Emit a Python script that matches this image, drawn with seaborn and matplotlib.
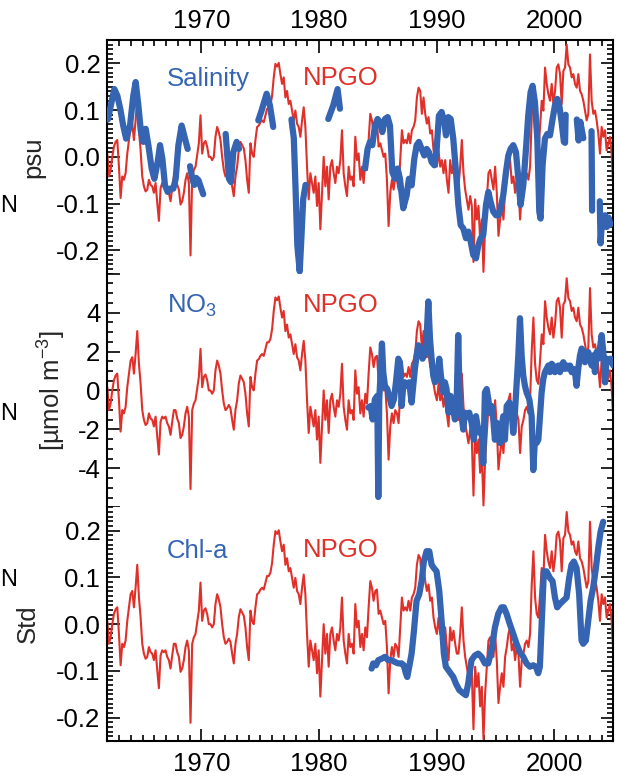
import numpy as np
import pandas as pd
import matplotlib
matplotlib.use("Agg")
import matplotlib.pyplot as plt
import seaborn as sns
from matplotlib.ticker import MultipleLocator, FixedLocator, FuncFormatter

sns.set_style("white")
plt.rcParams['font.family'] = ['Liberation Sans', 'DejaVu Sans']
plt.rcParams['mathtext.fontset'] = 'custom'
plt.rcParams['mathtext.rm'] = 'Liberation Sans'
plt.rcParams['mathtext.it'] = 'Liberation Sans:italic'
plt.rcParams['axes.unicode_minus'] = False

# ---------------- data ----------------
# NPGO index (regularly sampled from 1962.0 to 2005.0), in psu/Std units
npgo_start, npgo_end = 1962.0, 2005.0
npgo_values = [
    0.007, -0.042, -0.028, 0.000, 0.022, 0.032, 0.036, -0.021, -0.088, -0.042,
    -0.049, -0.035, 0.007, 0.036, 0.064, 0.071, 0.036, 0.078, 0.127, 0.057,
    0.015, -0.042, -0.063, -0.074, -0.070, -0.049, -0.060, -0.063, -0.077, -0.056,
    -0.098, -0.137, -0.067, -0.056, -0.060, -0.056, -0.070, -0.077, -0.095, -0.067,
    -0.042, -0.042, -0.060, -0.070, -0.102, -0.095, -0.077, -0.049, -0.035, -0.056,
    -0.211, -0.042, -0.028, -0.021, 0.004, 0.029, 0.089, 0.007, 0.029, 0.034,
    0.022, 0.000, 0.000, -0.007, 0.000, 0.043, 0.064, 0.053, 0.036, 0.000,
    -0.028, -0.042, -0.038, -0.031, -0.038, -0.063, -0.084, -0.042, -0.021, 0.015,
    0.032, 0.025, 0.018, -0.007, -0.049, -0.077, 0.029, 0.007, 0.000, 0.036,
    0.064, 0.067, 0.074, 0.078, 0.074, 0.089, 0.103, 0.103, 0.110, 0.131,
    0.170, 0.199, 0.193, 0.201, 0.177, 0.156, 0.170, 0.127, 0.141, 0.113,
    0.120, 0.099, 0.078, 0.099, 0.071, 0.064,
    0.043, 0.078, 0.106, 0.064, -0.021, -0.091, -0.035, -0.056, -0.077, -0.042,
    -0.105, -0.056, -0.155, -0.077, 0.000, -0.063, -0.021, -0.091, -0.021, -0.007,
    -0.035, -0.056, -0.021, -0.035, -0.007, 0.057, -0.035, -0.063, -0.084, -0.021,
    -0.049, -0.042, -0.063, 0.043, -0.007, 0.007, -0.049, -0.021, -0.056, -0.007,
    -0.028, 0.036, 0.092, 0.078, 0.050, 0.071, 0.074, 0.022, 0.029, 0.014,
    0.000, 0.007, -0.049, -0.148, -0.077, -0.049, -0.070, -0.042, -0.049, -0.070,
    -0.007, 0.057, 0.029, 0.036, 0.029, 0.050, 0.029, 0.057, 0.064, 0.078,
    0.127, 0.148, 0.141, 0.092, 0.127, 0.092, 0.071, 0.085, 0.050, 0.057,
    0.014, -0.007, -0.021, 0.014, -0.021, -0.007, -0.035, -0.007, -0.049, -0.077,
    -0.007, -0.035, -0.014, -0.042, -0.063, -0.063, -0.021, 0.036, -0.035, -0.070,
    -0.091, -0.113, -0.084, -0.105, -0.225, -0.091, -0.134, -0.105, -0.176, -0.134,
    -0.246, -0.148, -0.091, -0.035, -0.028, -0.049, -0.070, -0.021, -0.077, -0.169,
    -0.134, -0.105, -0.134, -0.070, -0.049, -0.021, -0.007, -0.056, -0.042, -0.077,
    -0.049, -0.063, -0.134, -0.077, -0.063, -0.042, -0.035, -0.049, -0.021, 0.085,
    0.156, 0.057, 0.022, 0.014, 0.064, 0.120, 0.099, 0.191, 0.156, 0.134,
    0.120, 0.156, 0.113, 0.141, 0.191, 0.198, 0.177, 0.113, 0.184, 0.191,
    0.240, 0.198, 0.191, 0.170, 0.177, 0.156, 0.148, 0.177, 0.141, 0.134,
    0.120, 0.099, 0.078, 0.092, 0.219, 0.120, 0.092, 0.099, 0.078, 0.050,
    0.007, 0.064, 0.043, 0.057, 0.014, 0.029, 0.043, 0.007, -0.063,
]
npgo_no3_scale = 24.0   # NPGO drawn in the nitrate panel in umol m-3 units

# Salinity (psu), NaN marks gaps in the record
sal_years = [
    1962.05, 1962.30, 1962.60, 1962.85, 1963.10, 1963.35, 1963.60, 1963.93, 1964.21, 1964.41,
    1964.64, 1964.86, 1965.06, 1965.26, 1965.49, 1965.77, 1966.00, 1966.28, 1966.48, 1966.68,
    1966.90, 1967.13, 1967.33, 1967.61, 1967.81, 1968.04, 1968.32, 1968.60, 1968.83, np.nan,
    1969.03, 1969.25, 1969.40, 1969.55, 1969.75, 1969.95, 1970.15, np.nan,
    1972.06, 1972.34, 1972.51, 1972.71, 1972.99, 1973.19, np.nan,
    1974.83, 1975.11, 1975.54, 1975.82, 1976.10, np.nan,
    1977.65, 1977.85, 1978.00, 1978.15, 1978.35, 1978.50, 1978.65, 1978.85, np.nan,
    1980.78, 1981.20, 1981.57, 1981.77, np.nan,
    1983.90, 1984.12, 1984.32, 1984.52, 1984.75, 1984.97, 1985.17, 1985.37, 1985.60, 1985.82,
    1986.02, 1986.22, 1986.45, 1986.67, 1986.87, 1987.15, 1987.44, 1987.63, 1987.86, 1988.09,
    1988.29, 1988.48, 1988.71, 1988.94, 1989.14, 1989.33, 1989.56, 1989.79, 1989.99, 1990.18,
    1990.41, 1990.64, 1990.78, 1990.98,
    1991.18, 1991.40, 1991.63, 1991.83, 1992.03, 1992.25, 1992.48, 1992.68, 1992.88, 1993.10,
    1993.33, 1993.53, 1993.73, 1993.95, 1994.18, 1994.38, 1994.57, 1994.80, 1995.03, 1995.23,
    1995.42, 1995.65, 1995.88, 1996.08, 1996.27, 1996.50, 1996.73, 1996.93, 1997.12, 1997.35,
    1997.58, 1997.77, 1997.97, 1998.14, 1998.34, 1998.54, 1998.71, 1998.82, 1998.99, 1999.19,
    1999.39, 1999.62, 1999.84, 2000.04, 2000.24, 2000.41, 2000.61, 2000.80, np.nan,
    2000.90, 2000.95, np.nan,
    2001.90, 2002.05, 2002.20, 2002.45, np.nan,
    2003.15, 2003.20, np.nan,
    2003.85, 2003.92, 2004.05, 2004.15, 2004.30, 2004.45, 2004.60, 2004.75,
]
sal_values = [
    0.080, 0.110, 0.145, 0.131, 0.103, 0.067, 0.039, 0.067, 0.131, 0.160,
    0.110, 0.053, 0.032, 0.060, 0.025, -0.025, -0.047, -0.011, 0.025, -0.004,
    -0.061, -0.075, -0.068, -0.068, -0.047, 0.025, 0.067, 0.039, 0.017, np.nan,
    -0.020, -0.050, -0.060, -0.045, -0.050, -0.065, -0.080, np.nan,
    0.049, -0.047, -0.054, 0.010, 0.032, 0.017, np.nan,
    0.078, 0.099, 0.135, 0.110, 0.064, np.nan,
    0.080, 0.040, -0.070, -0.190, -0.245, -0.170, -0.090, -0.060, np.nan,
    0.081, 0.110, 0.145, 0.103, np.nan,
    -0.025, 0.017, 0.032, 0.025, 0.067, 0.081, 0.074, 0.053, 0.081, 0.085,
    0.067, -0.032, -0.047, -0.025, -0.047, -0.110, -0.082, -0.047, -0.061, -0.004,
    0.025, 0.032, 0.017, 0.003, 0.017, 0.010, -0.011, -0.018, 0.017, 0.088,
    0.096, 0.074, 0.046, 0.085,
    0.081, 0.039, -0.032, -0.103, -0.146, -0.153, -0.174, -0.160, -0.181, -0.210,
    -0.217, -0.189, -0.174, -0.167, -0.103, -0.075, -0.096, -0.117, -0.125, -0.125,
    -0.110, -0.082, -0.032, 0.003, 0.017, 0.025, 0.010, -0.047, -0.103, -0.061,
    0.017, 0.088, 0.138, 0.152, 0.117, 0.039, -0.117, -0.132, -0.018, 0.039,
    0.049, 0.046, 0.081, 0.110, 0.124, 0.110, 0.074, 0.032, np.nan,
    0.030, 0.090, np.nan,
    0.080, 0.035, 0.075, 0.040, np.nan,
    0.055, -0.115, np.nan,
    -0.095, -0.185, -0.130, -0.150, -0.125, -0.150, -0.130, -0.145,
]

# Nitrate anomaly (umol m-3)
no3_years = [
    1984.18, 1984.38, 1984.55, 1984.74, 1984.94, 1985.03, 1985.11, 1985.23, 1985.34, 1985.45,
    1985.59, 1985.79, 1985.96, 1986.16, 1986.36, 1986.53, 1986.73, 1986.87, 1987.01, 1987.15,
    1987.29, 1987.49, 1987.66, 1987.86, 1988.00, 1988.14, 1988.28, 1988.43, 1988.62, 1988.79,
    1988.99, 1989.13, 1989.28, 1989.42, 1989.56, 1989.70, 1989.84, 1990.04, 1990.21, 1990.35,
    1990.55, 1990.69, 1990.83, 1991.00, 1991.17, 1991.34, 1991.54, 1991.68, 1991.82, 1991.97,
    1992.11, 1992.25, 1992.39, 1992.59, 1992.76, 1992.96, 1993.15, 1993.33, 1993.52,
    1993.67, 1993.81, 1993.95, 1994.09, 1994.24, 1994.38, 1994.52, 1994.66, 1994.80, 1994.94,
    1995.09, 1995.23, 1995.37, 1995.51, 1995.65, 1995.79, 1995.94, 1996.16, 1996.36, 1996.50,
    1996.64, 1996.79, 1996.93, 1997.07, 1997.21, 1997.35, 1997.49, 1997.63, 1997.86, 1998.06,
    1998.20, 1998.34, 1998.48, 1998.63, 1998.77, 1998.91, 1999.05, 1999.19, 1999.33, 1999.48,
    1999.62, 1999.76, 1999.90, 2000.04, 2000.18, 2000.33, 2000.47, 2000.61, 2000.75, 2000.89,
    2001.03, 2001.18, 2001.32, 2001.46, 2001.60, 2001.74, 2001.88, 2002.02, 2002.17, 2002.31,
    2002.45, 2002.59, 2002.73, 2002.87, 2003.02, 2003.16, 2003.30, 2003.44, 2003.58, 2003.72,
    2003.86, 2004.01, 2004.15, 2004.29, 2004.43, 2004.57, 2004.77, 2005.00,
]
no3_values = [
    -0.88, -0.80, -1.49, -0.45, -0.28, -5.47, -0.45, 0.94, 2.41, 0.94,
    0.24, 0.07, -0.28, -0.80, -0.45, 0.42, 1.63, 1.45, -0.80, 0.24,
    0.42, 0.24, 0.42, -0.62, 0.24, 1.11, 1.80, 2.32, 2.15, 1.63,
    1.97, 2.67, 4.57, 2.67, 1.63, 0.76, 0.42, 0.59, 1.63, 0.76,
    -0.10, 0.42, 0.07, -1.14, -0.28, -0.80, -1.49, -0.80, 2.84, -1.14,
    -1.32, -2.01, -1.14, -1.32, -1.14, -1.66, -2.53, -1.32, -2.01,
    -2.18, -2.01, -3.74, -0.10, 0.07, -0.45, -1.14, -0.80, -1.49, -2.53,
    -1.66, -2.01, -2.70, -1.84, -1.32, -2.53, -0.80, -0.62, -1.14, -2.18,
    -1.14, 0.42, 1.80, 3.71, 1.80, 0.76, 0.24, -0.10, -0.45, -1.32,
    -4.09, -2.53, -2.70, -2.53, -1.32, -0.10, 0.59, 0.94, 1.11, 1.28,
    0.94, 1.37, 1.28, 0.94, 1.11, 1.28, 0.94, 1.28, 1.45, 1.11,
    1.28, 1.11, 1.28, 0.94, 1.11, 0.94, 0.24, 1.11, 1.80, 2.15,
    1.97, 1.45, 1.63, 1.97, 1.63, 1.28, 1.80, 0.94, 1.97, 1.63,
    2.15, 2.84, 1.97, 0.42, 1.63, 1.45, 1.63, 1.28,
]

# Chlorophyll-a anomaly (Std)
chl_years = [
    1984.46, 1984.60, 1984.83, 1985.03, 1985.31, 1985.59, 1985.87, 1986.16, 1986.44, 1986.72,
    1987.01, 1987.20, 1987.37, 1987.49, 1987.66, 1987.86, 1988.06, 1988.28, 1988.51, 1988.71,
    1988.90, 1989.13, 1989.36, 1989.56, 1989.75, 1989.98, 1990.21, 1990.41, 1990.60, 1990.77,
    1990.97, 1991.17, 1991.40, 1991.62, 1991.91, 1992.25, 1992.47, 1992.67, 1992.95, 1993.24,
    1993.52, 1993.80, 1994.09, 1994.37, 1994.65, 1994.94, 1995.22, 1995.50, 1995.70, 1995.93,
    1996.21, 1996.50, 1996.78, 1997.06, 1997.35, 1997.63, 1997.91, 1998.20, 1998.42, 1998.62,
    1998.76, 1998.90, 1999.10, 1999.33, 1999.61, 1999.84, 2000.04, 2000.23, 2000.46, 2000.74,
    2001.03, 2001.25, 2001.45, 2001.65, 2001.88, 2002.10, 2002.30, 2002.44, 2002.67, 2002.87,
    2003.07, 2003.29, 2003.52, 2003.72, 2003.92, 2004.14,
]
chl_values = [
    -0.095, -0.084, -0.088, -0.077, -0.074, -0.070, -0.077, -0.077, -0.081, -0.084,
    -0.084, -0.088, -0.105, -0.113, -0.091, -0.063, -0.014, 0.050, 0.064, 0.092,
    0.134, 0.156, 0.156, 0.127, 0.120, 0.113, 0.071, 0.007, -0.063, -0.091,
    -0.098, -0.105, -0.113, -0.127, -0.141, -0.148, -0.152, -0.127, -0.077, -0.067,
    -0.063, -0.070, -0.084, -0.084, -0.056, -0.007, 0.022, 0.036, 0.036, 0.022,
    0.000, -0.021, -0.042, -0.060, -0.070, -0.084, -0.091, -0.088, -0.091, -0.105,
    -0.091, -0.007, 0.113, 0.113, 0.099, 0.092, 0.057, 0.036, 0.043, 0.050,
    0.057, 0.099, 0.127, 0.134, 0.120, 0.064, -0.035, -0.042, -0.035, 0.007,
    0.050, 0.078, 0.120, 0.163, 0.198, 0.219,
]

panel_labels = ["Salinity", "NO$_3$", "Chl-a"]
ylabels = ["psu", "[\u00b5mol m$^{-3}$]", "Std"]
xticks = [1970, 1980, 1990, 2000]

# ---------------- styling ----------------
RED = "#e0302a"
BLUE = "#3464b2"
FS = 18.5

npgo_years = np.linspace(npgo_start, npgo_end, len(npgo_values))
npgo_df = pd.DataFrame({"year": npgo_years, "val": npgo_values})
npgo_mid_df = pd.DataFrame({"year": npgo_years,
                            "val": np.array(npgo_values) * npgo_no3_scale})


def segmented(years, values):
    y = np.array(years, dtype=float)
    v = np.array(values, dtype=float)
    seg = np.cumsum(np.isnan(y))
    df = pd.DataFrame({"year": y, "val": v, "seg": seg})
    return df.dropna()


sal_df = segmented(sal_years, sal_values)
no3_df = pd.DataFrame({"year": no3_years, "val": no3_values, "seg": 0})
chl_df = pd.DataFrame({"year": chl_years, "val": chl_values, "seg": 0})

fig = plt.figure(figsize=(6.19, 7.80), dpi=100)
L, W = 107.3 / 619, 506 / 619
H = 233.7 / 780
ax_top = fig.add_axes([L, 1 - 273.7 / 780, W, H])
ax_mid = fig.add_axes([L, 1 - 507.3 / 780, W, H])
ax_bot = fig.add_axes([L, 1 - 741.0 / 780, W, H])
axes = [ax_top, ax_mid, ax_bot]

reds = [npgo_df, npgo_mid_df, npgo_df]
blues = [sal_df, no3_df, chl_df]
ylims = [(-0.25, 0.25), (-6, 6), (-0.25, 0.25)]
text_y = [0.803, 0.831, 0.782]
label_x = [-0.147, -0.109, -0.157]

for i, ax in enumerate(axes):
    sns.lineplot(data=reds[i], x="year", y="val", ax=ax, color=RED, lw=1.5,
                 estimator=None, sort=False, zorder=2)
    sns.lineplot(data=blues[i], x="year", y="val", units="seg", ax=ax,
                 color=BLUE, lw=4.5, estimator=None, sort=False, zorder=3)
    ax.set_xlim(1962.0, 2005.0)
    ax.set_ylim(*ylims[i])
    ax.set_xlabel("")
    ax.set_ylabel(ylabels[i], fontsize=FS, va="center")
    ax.yaxis.set_label_coords(label_x[i], 0.5)

    ax.xaxis.set_major_locator(FixedLocator(xticks))
    ax.xaxis.set_minor_locator(MultipleLocator(1))
    if i == 1:
        ax.yaxis.set_major_locator(MultipleLocator(2))
        ax.yaxis.set_minor_locator(MultipleLocator(0.5))
        ax.yaxis.set_major_formatter(FuncFormatter(
            lambda v, p: "" if abs(v) > 5 else "%d" % round(v)))
    else:
        ax.yaxis.set_major_locator(FixedLocator([-0.2, -0.1, 0.0, 0.1, 0.2]))
        ax.yaxis.set_minor_locator(MultipleLocator(0.01))
        ax.yaxis.set_major_formatter(FuncFormatter(
            lambda v, p: "%.1f" % (round(v, 2) + 0.0)))

    ax.tick_params(which="both", direction="in", left=True, right=True,
                   labelsize=FS, width=1.2, color="black", labelcolor="black")
    ax.tick_params(which="major", length=9)
    ax.tick_params(which="minor", length=4.5)
    ax.tick_params(axis="y", pad=5)
    for s in ax.spines.values():
        s.set_linewidth(1.5)
        s.set_color("black")

    ax.text(0.117, text_y[i], panel_labels[i], transform=ax.transAxes,
            color=BLUE, fontsize=FS, va="baseline", ha="left")
    ax.text(0.386, text_y[i] + 0.004, "NPGO", transform=ax.transAxes,
            color=RED, fontsize=FS, va="baseline", ha="left")

ax_top.spines["bottom"].set_visible(False)
ax_top.tick_params(axis="x", which="both", top=True, bottom=False,
                   labeltop=True, labelbottom=False, pad=5)
ax_mid.spines["top"].set_visible(False)
ax_mid.spines["bottom"].set_visible(False)
ax_mid.tick_params(axis="x", which="both", top=False, bottom=False,
                   labeltop=False, labelbottom=False)
ax_bot.spines["top"].set_visible(False)
ax_bot.tick_params(axis="x", which="both", top=False, bottom=True,
                   labelbottom=True, pad=8)

# labels from a neighbouring panel at the far left edge
for yc in [206, 414, 580]:
    fig.text(0.5 / 619, 1 - yc / 780, "N", ha="left", va="center",
             fontsize=17, color="black")

fig.savefig("out.png", dpi=100)
